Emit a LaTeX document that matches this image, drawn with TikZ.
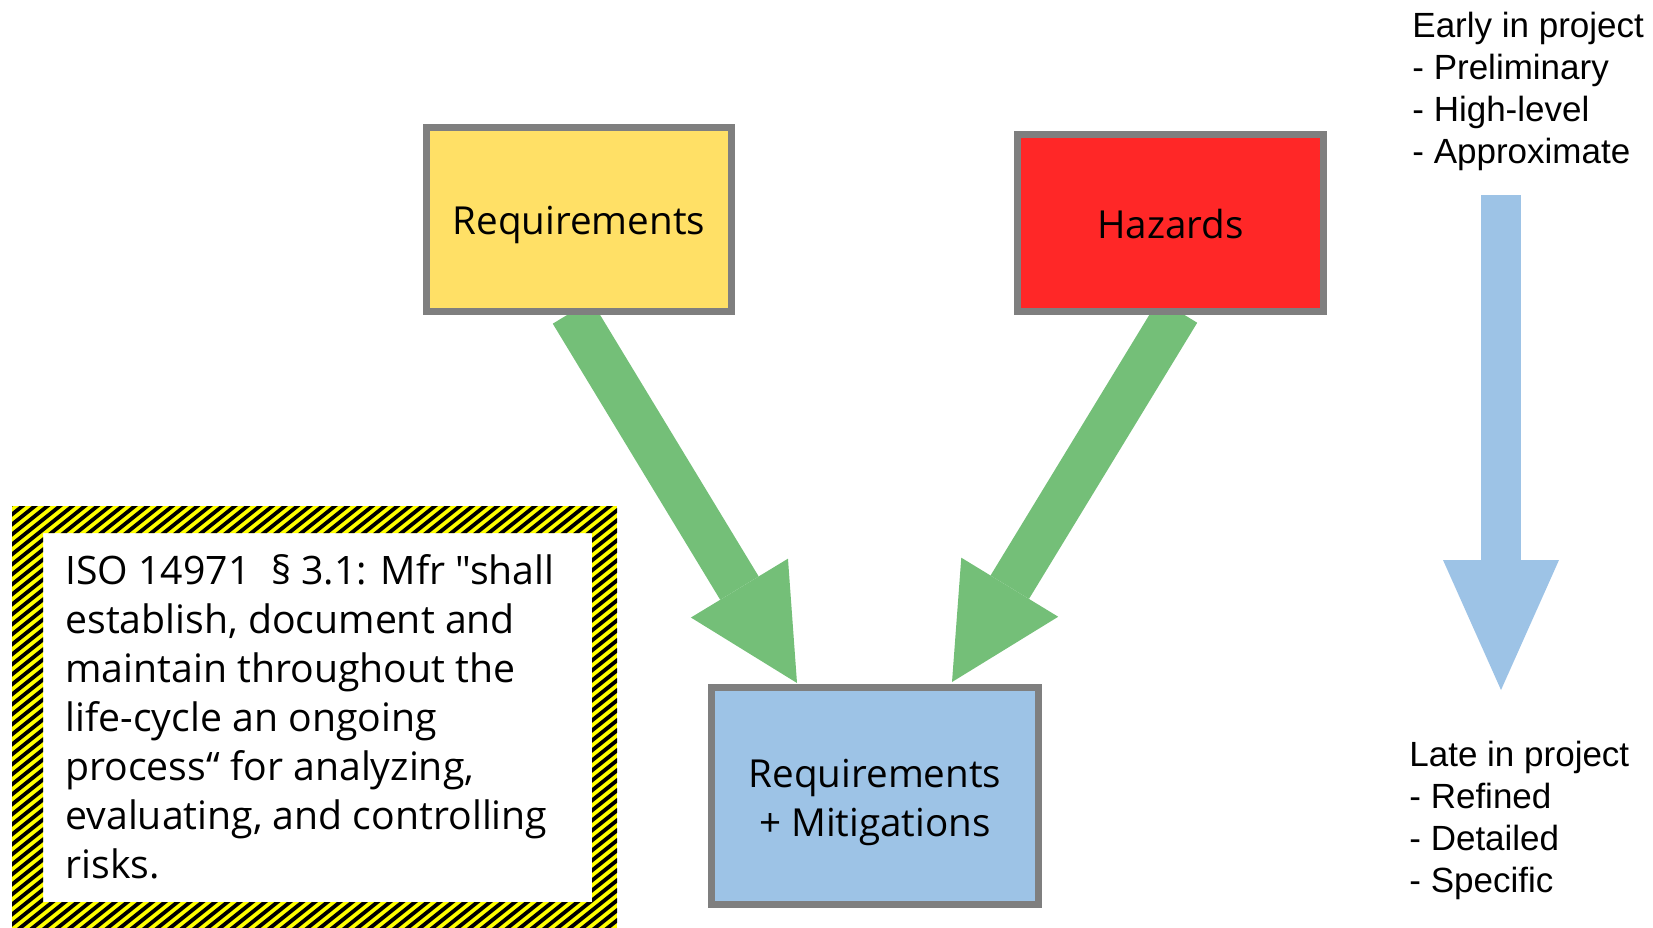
\documentclass[tikz,border=0pt]{standalone}
\usepackage{fontspec}
\newfontfamily\boxfont{Open Sans}
\newfontfamily\notefont{Liberation Sans}
\usetikzlibrary{arrows.meta,calc,backgrounds}

\definecolor{boxgray}{HTML}{7F7F7F}
\definecolor{reqyellow}{HTML}{FFE066}
\definecolor{hazred}{HTML}{FF2727}
\definecolor{mitblue}{HTML}{9DC3E6}
\definecolor{flowgreen}{HTML}{74BF78}
\definecolor{warnyellow}{HTML}{FFFF00}

\begin{document}
\begin{tikzpicture}[x=0.5pt,y=-0.5pt,
  stage/.style={draw=boxgray, line width=3.5pt, align=center, inner sep=0pt,
    font=\boxfont\fontsize{19.3}{24.5}\selectfont},
  flow/.style={draw=flowgreen, line width=22.5pt,
    -{Triangle[width=56.75pt,length=55.5pt,line width=0pt]}},
  timeline/.style={draw=mitblue, line width=20pt,
    -{Triangle[width=58pt,length=65pt,line width=0pt]}},
  note/.style={anchor=base west, align=left, inner sep=0pt,
    font=\notefont\fontsize{17.5}{21}\selectfont},
  quote/.style={anchor=base west, align=left, inner sep=0pt,
    font=\boxfont\fontsize{19.6}{24.5}\selectfont}]

\useasboundingbox (0,0) rectangle (1653,927);

% process boxes
\node[stage, fill=reqyellow, minimum width=152.5pt, minimum height=92pt,
      text height=16.5pt, text depth=1.5pt] (req) at (579,219.5) {Requirements};
\node[stage, fill=hazred, minimum width=153pt, minimum height=88.5pt,
      text height=16.5pt, text depth=1.5pt] (haz) at (1170.5,223) {Hazards};
\node[stage, fill=mitblue, minimum width=163.5pt, minimum height=108.5pt,
      text height=40pt, text depth=0pt] (mit)
      at (875,796) {Requirements\\+ Mitigations};

% flows into the combined box
\coordinate (reqtail) at ($(req.south)+(-7,-3)$);
\coordinate (reqtip)  at ($(mit.north)+(-78,-1)$);
\coordinate (haztail) at ($(haz.south)+(7.5,-4)$);
\coordinate (haztip)  at ($(mit.north)+(77,-2)$);
\begin{pgfonlayer}{background}
  \draw[flow] (reqtail) -- (reqtip);
  \draw[flow] (haztail) -- (haztip);
\end{pgfonlayer}

% project timeline
\coordinate (early) at (1501,195);
\coordinate (late)  at (1501,690);
\draw[timeline] (early) -- (late);
\node[note] (earlytxt) at (1412,163) {Early in project\\- Preliminary\\- High-level\\- Approximate};
\node[note] (latetxt) at (1409,892) {Late in project\\- Refined\\- Detailed\\- Specific};

% standard excerpt in a warning-striped frame
\begin{scope}[even odd rule]
  \clip (12,506) rectangle (617,940) (43,533) rectangle (592,902);
  \fill[warnyellow] (12,506) rectangle (617,940);
  \foreach \k in {0,...,94}
    \draw[black, line width=1.9pt] ({12.5*\k-545},940) -- ++(560,-448);
\end{scope}
\node[quote] (iso) at (65,878) {ISO 14971~~§ 3.1: Mfr "shall\\establish, document and\\maintain throughout the\\life-cycle an ongoing\\process“ for analyzing,\\evaluating, and controlling\\risks.};

\end{tikzpicture}
\end{document}
